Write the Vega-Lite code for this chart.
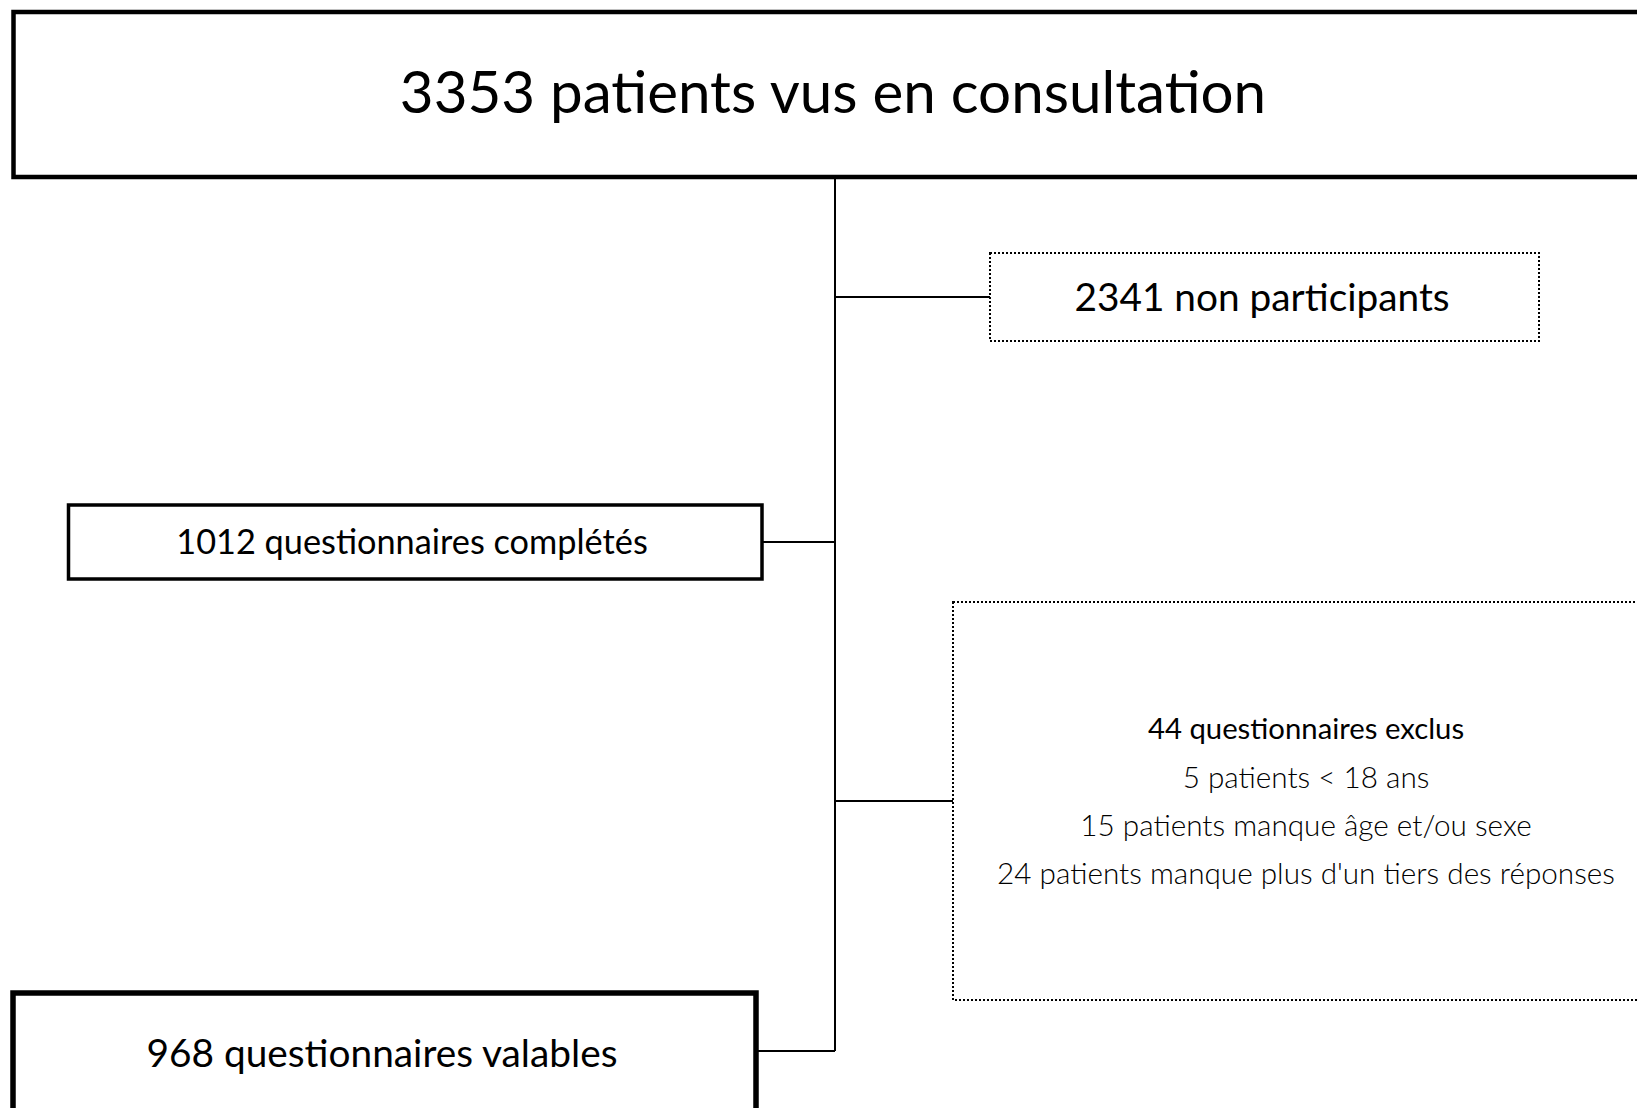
{
  "$schema": "https://vega.github.io/schema/vega-lite/v6.json",
  "width": 1637,
  "height": 1108,
  "autosize": "none",
  "padding": 0,
  "background": "white",
  "config": {"view": {"stroke": null}},
  "datasets": {
    "boxes": [
      {"id": "top", "x1": 13.5, "x2": 1670, "y1": 12, "y2": 177, "kind": "thick"},
      {"id": "completes", "x1": 68.5, "x2": 762, "y1": 505, "y2": 579, "kind": "medium"},
      {"id": "valables", "x1": 13, "x2": 756, "y1": 993, "y2": 1140, "kind": "heavy"},
      {"id": "nonpart", "x1": 990, "x2": 1539, "y1": 253, "y2": 341, "kind": "dotted"},
      {"id": "exclus", "x1": 953, "x2": 1670, "y1": 602, "y2": 1000, "kind": "dotted"}
    ],
    "links": [
      {"x1": 835, "x2": 835, "y1": 177, "y2": 1051},
      {"x1": 835, "x2": 990, "y1": 297, "y2": 297},
      {"x1": 762, "x2": 835, "y1": 542, "y2": 542},
      {"x1": 835, "x2": 953, "y1": 801, "y2": 801},
      {"x1": 756, "x2": 835, "y1": 1051, "y2": 1051}
    ],
    "labels": [
      {"x": 833, "y": 96, "text": "3353 patients vus en consultation", "kind": "title"},
      {"x": 1262, "y": 299, "text": "2341 non participants", "kind": "box"},
      {"x": 412, "y": 544, "text": "1012 questionnaires complétés", "kind": "boxsmall"},
      {"x": 382, "y": 1055, "text": "968 questionnaires valables", "kind": "box"},
      {"x": 1306, "y": 730, "text": "44 questionnaires exclus", "kind": "head"},
      {"x": 1306, "y": 779, "text": "5 patients < 18 ans", "kind": "light"},
      {"x": 1306, "y": 827, "text": "15 patients manque âge et/ou sexe", "kind": "light"},
      {"x": 1306, "y": 875, "text": "24 patients manque plus d'un tiers des réponses", "kind": "light"}
    ]
  },
  "encoding": {},
  "layer": [
    {
      "data": {"name": "boxes"},
      "transform": [{"filter": "datum.kind === 'thick'"}],
      "mark": {"type": "rect", "fill": "white", "stroke": "black", "strokeWidth": 4.5},
      "encoding": {
        "x": {"field": "x1", "type": "quantitative", "scale": {"domain": [0, 1637], "nice": false, "zero": false}, "axis": null},
        "x2": {"field": "x2"},
        "y": {"field": "y1", "type": "quantitative", "scale": {"domain": [1108, 0], "nice": false, "zero": false}, "axis": null},
        "y2": {"field": "y2"}
      }
    },
    {
      "data": {"name": "boxes"},
      "transform": [{"filter": "datum.kind === 'medium'"}],
      "mark": {"type": "rect", "fill": "white", "stroke": "black", "strokeWidth": 3.5},
      "encoding": {
        "x": {"field": "x1", "type": "quantitative"},
        "x2": {"field": "x2"},
        "y": {"field": "y1", "type": "quantitative"},
        "y2": {"field": "y2"}
      }
    },
    {
      "data": {"name": "boxes"},
      "transform": [{"filter": "datum.kind === 'heavy'"}],
      "mark": {"type": "rect", "fill": "white", "stroke": "black", "strokeWidth": 5.5},
      "encoding": {
        "x": {"field": "x1", "type": "quantitative"},
        "x2": {"field": "x2"},
        "y": {"field": "y1", "type": "quantitative"},
        "y2": {"field": "y2"}
      }
    },
    {
      "data": {"name": "boxes"},
      "transform": [{"filter": "datum.kind === 'dotted'"}],
      "mark": {"type": "rect", "fill": "white", "stroke": "black", "strokeWidth": 2, "strokeDash": [2, 2]},
      "encoding": {
        "x": {"field": "x1", "type": "quantitative"},
        "x2": {"field": "x2"},
        "y": {"field": "y1", "type": "quantitative"},
        "y2": {"field": "y2"}
      }
    },
    {
      "data": {"name": "links"},
      "mark": {"type": "rule", "color": "black", "strokeWidth": 2},
      "encoding": {
        "x": {"field": "x1", "type": "quantitative"},
        "x2": {"field": "x2"},
        "y": {"field": "y1", "type": "quantitative"},
        "y2": {"field": "y2"}
      }
    },
    {
      "data": {"name": "labels"},
      "transform": [{"filter": "datum.kind === 'title'"}],
      "mark": {"type": "text", "font": "Lato", "fontSize": 58.3, "color": "black", "align": "center", "baseline": "middle"},
      "encoding": {
        "x": {"field": "x", "type": "quantitative"},
        "y": {"field": "y", "type": "quantitative"},
        "text": {"field": "text"}
      }
    },
    {
      "data": {"name": "labels"},
      "transform": [{"filter": "datum.kind === 'box'"}],
      "mark": {"type": "text", "font": "Lato", "fontSize": 38.8, "color": "black", "align": "center", "baseline": "middle"},
      "encoding": {
        "x": {"field": "x", "type": "quantitative"},
        "y": {"field": "y", "type": "quantitative"},
        "text": {"field": "text"}
      }
    },
    {
      "data": {"name": "labels"},
      "transform": [{"filter": "datum.kind === 'boxsmall'"}],
      "mark": {"type": "text", "font": "Lato", "fontSize": 34.3, "color": "black", "align": "center", "baseline": "middle"},
      "encoding": {
        "x": {"field": "x", "type": "quantitative"},
        "y": {"field": "y", "type": "quantitative"},
        "text": {"field": "text"}
      }
    },
    {
      "data": {"name": "labels"},
      "transform": [{"filter": "datum.kind === 'head'"}],
      "mark": {"type": "text", "font": "Lato", "fontSize": 29.3, "color": "black", "align": "center", "baseline": "middle"},
      "encoding": {
        "x": {"field": "x", "type": "quantitative"},
        "y": {"field": "y", "type": "quantitative"},
        "text": {"field": "text"}
      }
    },
    {
      "data": {"name": "labels"},
      "transform": [{"filter": "datum.kind === 'light'"}],
      "mark": {"type": "text", "font": "Lato", "fontWeight": 300, "fontSize": 29.7, "color": "black", "align": "center", "baseline": "middle"},
      "encoding": {
        "x": {"field": "x", "type": "quantitative"},
        "y": {"field": "y", "type": "quantitative"},
        "text": {"field": "text"}
      }
    }
  ]
}
